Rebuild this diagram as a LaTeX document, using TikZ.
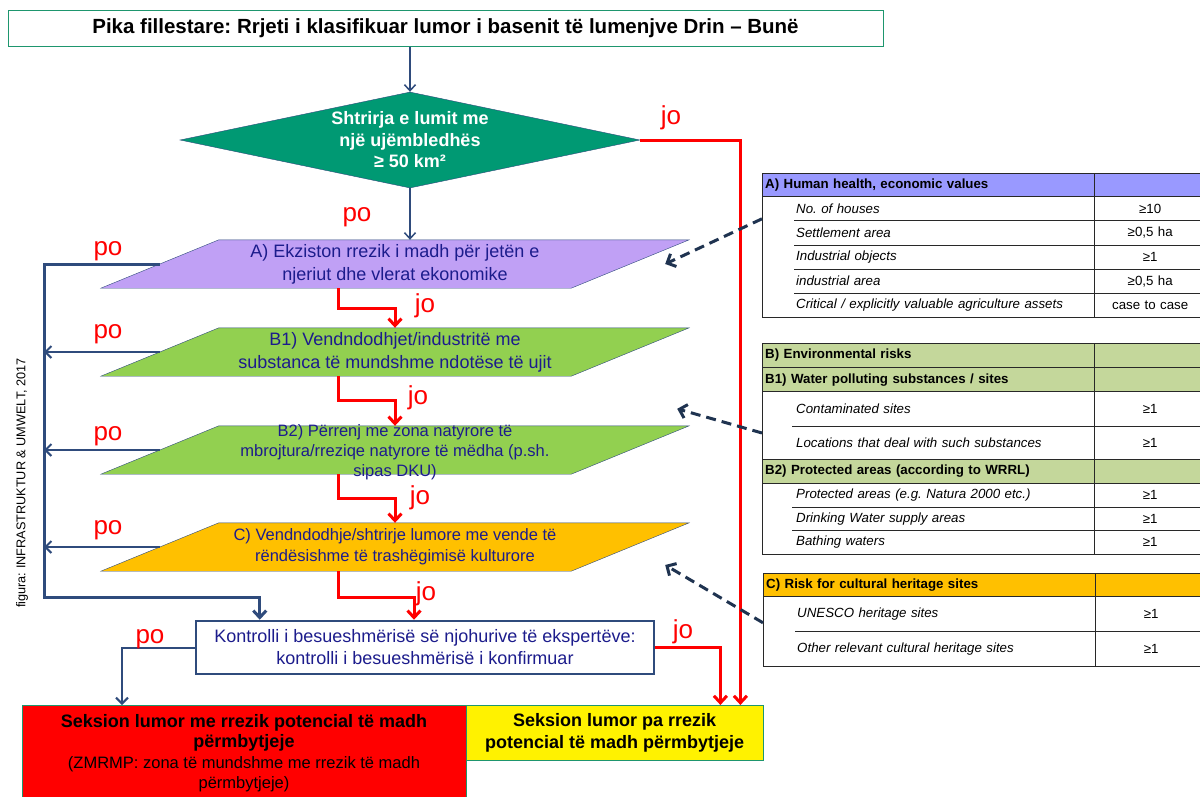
\documentclass[tikz,border=0pt]{standalone}
\usepackage{fontspec}
\setmainfont{Liberation Sans}
\usetikzlibrary{arrows.meta,shapes.geometric}
\frenchspacing

\definecolor{navy}{RGB}{47,75,124}
\definecolor{dnavy}{RGB}{31,51,80}
\definecolor{txtblue}{RGB}{28,28,140}
\definecolor{tgreen}{RGB}{30,150,110}
\definecolor{dmgreen}{RGB}{0,153,115}
\definecolor{lilac}{RGB}{192,160,245}
\definecolor{lgreen}{RGB}{146,208,80}
\definecolor{amber}{RGB}{255,192,0}
\definecolor{hdlilac}{RGB}{153,153,255}
\definecolor{hdgreen}{RGB}{196,215,155}
\definecolor{jored}{RGB}{255,0,0}
\definecolor{tline}{RGB}{40,40,40}

% parallelogram round an empty box node
\newcommand{\paral}[2]{\draw[navy, fill=#2] ([xshift=-59pt]#1.south west) -- ([xshift=-59pt]#1.south east)
  -- ([xshift=59pt]#1.north east) -- ([xshift=59pt]#1.north west) -- cycle;}

\begin{document}
\begin{tikzpicture}[x=1pt,y=-1pt,
  every node/.style={inner sep=0pt},
  lbl/.style={text=jored, font=\fontsize{26}{26}\selectfont},
  parabox/.style={minimum width=470pt, minimum height=48pt},
  paratext/.style={text=txtblue, align=center, font=\fontsize{18}{23}\selectfont},
  yesline/.style={jored, line width=3pt, -{Straight Barb[length=7pt,width=13pt]}},
  noline/.style={navy, line width=2pt, -{Straight Barb[length=6pt,width=12pt]}},
  bus/.style={navy, line width=3pt},
  hint/.style={dnavy, line width=3pt, dash pattern=on 10pt off 6pt, -{Straight Barb[length=7pt,width=14pt]}},
  hdl/.style={text width=326pt, inner xsep=3pt, align=left, minimum height=24pt, font=\bfseries\fontsize{13.3}{15}\selectfont},
  hdr/.style={text width=112pt, align=center, minimum height=24pt},
  rowl/.style={text width=326pt, inner xsep=3pt, align=left, font=\itshape\fontsize{13.3}{15}\selectfont, execute at begin node={\hspace*{31pt}}},
  rowr/.style={text width=112pt, align=center, font=\fontsize{13.3}{15}\selectfont},
  tab/.style={tline, line width=1pt}
]
\useasboundingbox (0,0) rectangle (1200,796);

\node[draw=tgreen, line width=1pt, minimum width=875pt, minimum height=36pt, font=\bfseries\fontsize{20.5}{22}\selectfont] (tt) at (445.5,28) {Pika fillestare: Rrjeti i klasifikuar lumor i basenit të lumenjve Drin – Bunë};

\node[diamond, aspect=4.8, draw=navy, fill=dmgreen, minimum width=460pt, minimum height=96pt, text=white, align=center, font=\bfseries\fontsize{18}{21.5}\selectfont] (dm) at (410,140) {Shtrirja e lumit me\\ një ujëmbledhës\\ ≥ 50 km²};

\node[parabox] (pa) at (395,264) {};
\paral{pa}{lilac}
\node[paratext] (pat) at (pa) {A) Ekziston rrezik i madh për jetën e\\ njeriut dhe vlerat ekonomike};
\node[parabox] (pb) at (395,352) {};
\paral{pb}{lgreen}
\node[paratext] (pbt) at (pb) {B1) Vendndodhjet/industritë me\\ substanca të mundshme ndotëse të ujit};
\node[parabox] (pc) at (395,450) {};
\paral{pc}{lgreen}
\node[paratext, font=\fontsize{16.5}{20}\selectfont] (pct) at ([yshift=-2pt]pc) {B2) Përrenj me zona natyrore të\\ mbrojtura/rreziqe natyrore të mëdha (p.sh.\\ sipas DKU)};
\node[parabox] (pd) at (395,547) {};
\paral{pd}{amber}
\node[paratext, font=\fontsize{16.5}{21}\selectfont] (pdt) at (pd) {C) Vendndodhje/shtrirje lumore me vende të\\ rëndësishme të trashëgimisë kulturore};

\node[draw=navy, line width=2.5pt, minimum width=458pt, minimum height=53pt, text=txtblue, align=center, font=\fontsize{18}{22}\selectfont] (kt) at (425,647.5) {Kontrolli i besueshmërisë së njohurive të ekspertëve:\\ kontrolli i besueshmërisë i konfirmuar};

\node[draw=tgreen, fill=jored, minimum width=444pt, minimum height=96pt, anchor=north west] (rd) at (22,705) {};
\node[align=center, font=\fontsize{16.5}{20.5}\selectfont] (rdt) at (244,753) {{\bfseries\fontsize{18}{20.5}\selectfont Seksion lumor me rrezik potencial të madh}\\ {\bfseries\fontsize{18}{20.5}\selectfont përmbytjeje}\\ (ZMRMP: zona të mundshme me rrezik të madh\\ përmbytjeje)};
\node[draw=tgreen, fill=yellow, minimum width=297pt, minimum height=55pt, anchor=north west, align=center, font=\bfseries\fontsize{18}{22}\selectfont] (yl) at (466,705) {Seksion lumor pa rrezik\\ potencial të madh përmbytjeje};

\node[rotate=90, font=\fontsize{12.7}{13}\selectfont] (src) at (22,483) {figura: INFRASTRUKTUR \& UMWELT, 2017};

% tables
\node[matrix, anchor=north west, ampersand replacement=\&] (ta) at (762,173) {
\node[hdl, fill=hdlilac, minimum height=23pt] (a0) {A) Human health, economic values}; \& \node[hdr, fill=hdlilac, minimum height=23pt] {}; \\
\node[rowl, minimum height=24pt] (a1) {No. of houses}; \& \node[rowr, minimum height=24pt] {≥10}; \\
\node[rowl, minimum height=24pt] (a2) {Settlement area}; \& \node[rowr, minimum height=24pt] {≥0,5 ha}; \\
\node[rowl, minimum height=24pt] (a3) {Industrial objects}; \& \node[rowr, minimum height=24pt] {≥1}; \\
\node[rowl, minimum height=24pt] (a4) {industrial area}; \& \node[rowr, minimum height=24pt] {≥0,5 ha}; \\
\node[rowl, minimum height=24pt] (a5) {Critical / explicitly valuable agriculture assets}; \& \node[rowr, minimum height=24pt] {case to case}; \\
};
\draw[tab] (ta.north west) rectangle (ta.south east);
\draw[tab] (a0.north east) -- (a5.south east);
\draw[tab] (a0.south west) -- (a0.south west -| ta.east);
\draw[tab] ([xshift=32pt]a1.south west) -- (a1.south west -| ta.east);
\draw[tab] ([xshift=32pt]a2.south west) -- (a2.south west -| ta.east);
\draw[tab] ([xshift=32pt]a3.south west) -- (a3.south west -| ta.east);
\draw[tab] ([xshift=32pt]a4.south west) -- (a4.south west -| ta.east);

\node[matrix, anchor=north west, ampersand replacement=\&] (tb) at (762,343) {
\node[hdl, fill=hdgreen] (b0) {B) Environmental risks}; \& \node[hdr, fill=hdgreen] {}; \\
\node[hdl, fill=hdgreen] (b1) {B1) Water polluting substances / sites}; \& \node[hdr, fill=hdgreen] {}; \\
\node[rowl, minimum height=34pt] (b2) {Contaminated sites}; \& \node[rowr, minimum height=34pt] {≥1}; \\
\node[rowl, minimum height=33pt] (b3) {Locations that deal with such substances}; \& \node[rowr, minimum height=33pt] {≥1}; \\
\node[hdl, fill=hdgreen] (b4) {B2) Protected areas (according to WRRL)}; \& \node[hdr, fill=hdgreen] {}; \\
\node[rowl, minimum height=24pt] (b5) {Protected areas (e.g. Natura 2000 etc.)}; \& \node[rowr, minimum height=24pt] {≥1}; \\
\node[rowl, minimum height=23pt] (b6) {Drinking Water supply areas}; \& \node[rowr, minimum height=23pt] {≥1}; \\
\node[rowl, minimum height=23pt] (b7) {Bathing waters}; \& \node[rowr, minimum height=23pt] {≥1}; \\
};
\draw[tab] (tb.north west) rectangle (tb.south east);
\draw[tab] (b0.north east) -- (b7.south east);
\draw[tab] (b0.south west) -- (b0.south west -| tb.east);
\draw[tab] (b1.south west) -- (b1.south west -| tb.east);
\draw[tab] ([xshift=30pt]b2.south west) -- (b2.south west -| tb.east);
\draw[tab] (b3.south west) -- (b3.south west -| tb.east);
\draw[tab] (b4.south west) -- (b4.south west -| tb.east);
\draw[tab] ([xshift=30pt]b5.south west) -- (b5.south west -| tb.east);
\draw[tab] ([xshift=30pt]b6.south west) -- (b6.south west -| tb.east);

\node[matrix, anchor=north west, ampersand replacement=\&] (tc) at (763,573) {
\node[hdl, fill=amber, minimum height=23pt] (c0) {C) Risk for cultural heritage sites}; \& \node[hdr, fill=amber, minimum height=23pt] {}; \\
\node[rowl, minimum height=35pt] (c1) {UNESCO heritage sites}; \& \node[rowr, minimum height=35pt] {≥1}; \\
\node[rowl, minimum height=34pt] (c2) {Other relevant cultural heritage sites}; \& \node[rowr, minimum height=34pt] {≥1}; \\
};
\draw[tab] (tc.north west) rectangle (tc.south east);
\draw[tab] (c0.north east) -- (c2.south east);
\draw[tab] (c0.south west) -- (c0.south west -| tc.east);
\draw[tab] ([xshift=32pt]c1.south west) -- (c1.south west -| tc.east);

% main flow
\draw[navy, line width=1.5pt, -{Straight Barb[length=6pt,width=11pt]}] (tt.south -| dm.north) -- (dm.north);
\draw[navy, line width=1.5pt, -{Straight Barb[length=6pt,width=11pt]}] (dm.south) -- (dm.south |- pa.north);
\node[lbl] (po0) at (357,217) {po};
\draw[yesline] (dm.east) -| ([xshift=-23pt]yl.north east);
\node[lbl] (jo0) at (671,118) {jo};

\draw[yesline] ([xshift=-57pt]pa.south) -- ++(0,20) -| (pb.north);
\node[lbl] (jo1) at (425,306) {jo};
\draw[yesline] ([xshift=-57pt]pb.south) -- ++(0,24) -| (pc.north);
\node[lbl] (jo2) at (418,398) {jo};
\draw[yesline] ([xshift=-57pt]pc.south) -- ++(0,24) -| (pd.north);
\node[lbl] (jo3) at (420,498) {jo};
\draw[yesline] ([xshift=-57pt]pd.south) -- ++(0,26) -| ([xshift=-11pt]kt.north);
\node[lbl] (jo4) at (426,594) {jo};

\coordinate (busend) at (44,597);
\draw[bus, -{Straight Barb[length=7pt,width=13pt]}] (pa.west) -| (busend) -| ([xshift=65pt]kt.north west);
\node[lbl] (po1) at (108,251) {po};
\draw[noline] (pb.west) -- (pb.west -| busend);
\node[lbl] (po2) at (108,334) {po};
\draw[noline] (pc.west) -- (pc.west -| busend);
\node[lbl] (po3) at (108,436) {po};
\draw[noline] (pd.west) -- (pd.west -| busend);
\node[lbl] (po4) at (108,530) {po};

\draw[noline] (kt.west) -| ([xshift=100pt]rd.north west);
\node[lbl] (po5) at (150,639) {po};
\draw[yesline] (kt.east) -| ([xshift=-43pt]yl.north east);
\node[lbl] (jo5) at (683,632) {jo};

% table hints
\draw[hint] ([yshift=2pt]a1.south west) -- ([xshift=35pt]pa.east);
\draw[hint] ([yshift=-7pt]b2.south west) -- ([xshift=47pt,yshift=17pt]pc.north east);
\draw[hint] ([yshift=9pt]c1.south west) -- ([xshift=35pt,yshift=-18pt]pd.east);
\end{tikzpicture}
\end{document}
